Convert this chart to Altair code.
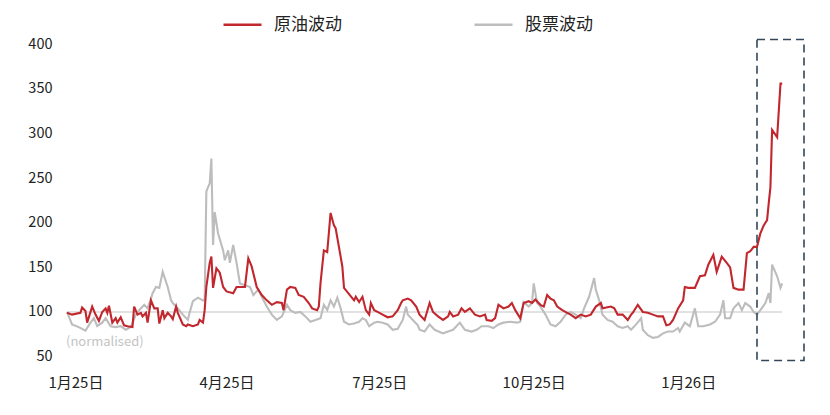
import altair as alt
import pandas as pd

FONT = "Noto Sans CJK SC"

# ---- data ----
series_names = ["原油波动", "股票波动"]
series_colors = ["#C1272D", "#BDBDBD"]

oil_dates = [
    "2024-12-27", "2024-12-30", "2025-01-04", "2025-01-05", "2025-01-07", "2025-01-08", "2025-01-11", "2025-01-13", "2025-01-15", "2025-01-17", "2025-01-19", "2025-01-20", "2025-01-21", "2025-01-23", "2025-01-25", "2025-01-26", "2025-01-28", "2025-01-30",
    "2025-02-01", "2025-02-04", "2025-02-05", "2025-02-07", "2025-02-09", "2025-02-10", "2025-02-12", "2025-02-13", "2025-02-15", "2025-02-17", "2025-02-19", "2025-02-20", "2025-02-22", "2025-02-23", "2025-02-25", "2025-02-27", "2025-02-28",
    "2025-03-02", "2025-03-03", "2025-03-06", "2025-03-08", "2025-03-09", "2025-03-12", "2025-03-15", "2025-03-16", "2025-03-18", "2025-03-19", "2025-03-20", "2025-03-22", "2025-03-23", "2025-03-24", "2025-03-26", "2025-03-28", "2025-03-30",
    "2025-04-01", "2025-04-05", "2025-04-07", "2025-04-09", "2025-04-12", "2025-04-14", "2025-04-16", "2025-04-19", "2025-04-22", "2025-04-25", "2025-04-28",
    "2025-05-01", "2025-05-04", "2025-05-05", "2025-05-07", "2025-05-09", "2025-05-12", "2025-05-14", "2025-05-17", "2025-05-20", "2025-05-22", "2025-05-25", "2025-05-26", "2025-05-27", "2025-05-29", "2025-05-31",
    "2025-06-02", "2025-06-04", "2025-06-05", "2025-06-08", "2025-06-09", "2025-06-10", "2025-06-13", "2025-06-16", "2025-06-17", "2025-06-19", "2025-06-21", "2025-06-23", "2025-06-25", "2025-06-26", "2025-06-28", "2025-06-30",
    "2025-07-03", "2025-07-06", "2025-07-09", "2025-07-12", "2025-07-14", "2025-07-15", "2025-07-18", "2025-07-20", "2025-07-23", "2025-07-25", "2025-07-28", "2025-07-31",
    "2025-08-02", "2025-08-05", "2025-08-08", "2025-08-11", "2025-08-12", "2025-08-14", "2025-08-17", "2025-08-19", "2025-08-21", "2025-08-24", "2025-08-27", "2025-08-30",
    "2025-09-02", "2025-09-03", "2025-09-06", "2025-09-08", "2025-09-10", "2025-09-13", "2025-09-16", "2025-09-18", "2025-09-20", "2025-09-23", "2025-09-25", "2025-09-28", "2025-09-30",
    "2025-10-02", "2025-10-05", "2025-10-07", "2025-10-09", "2025-10-11", "2025-10-13", "2025-10-15", "2025-10-18", "2025-10-21", "2025-10-23", "2025-10-26", "2025-10-29",
    "2025-11-01", "2025-11-04", "2025-11-07", "2025-11-10", "2025-11-11", "2025-11-16", "2025-11-18", "2025-11-20", "2025-11-23", "2025-11-26", "2025-11-28", "2025-11-29",
    "2025-12-02", "2025-12-05", "2025-12-08", "2025-12-11", "2025-12-14", "2025-12-17", "2025-12-19", "2025-12-21", "2025-12-23", "2025-12-26", "2025-12-29", "2025-12-30",
    "2026-01-01", "2026-01-05", "2026-01-08", "2026-01-11", "2026-01-13", "2026-01-16", "2026-01-18", "2026-01-21", "2026-01-24", "2026-01-26", "2026-01-28", "2026-01-31",
    "2026-02-03", "2026-02-05", "2026-02-07", "2026-02-09", "2026-02-11", "2026-02-13", "2026-02-15", "2026-02-17", "2026-02-18", "2026-02-19", "2026-02-20", "2026-02-23", "2026-02-25", "2026-02-26",
]
oil_values = [
    99, 97, 99, 105, 101, 88, 106, 97, 90, 100, 104, 99, 107, 88, 93, 88, 94, 85,
    84, 83, 106, 97, 99, 95, 99, 88, 113, 104, 104, 87, 102, 93, 99, 95, 92,
    106, 99, 86, 84, 86, 84, 86, 91, 88, 102, 128, 155, 162, 127, 149, 144, 128,
    123, 121, 128, 128, 128, 160, 151, 128, 119, 113, 108,
    111, 110, 102, 125, 128, 127, 119, 117, 110, 104, 102, 106, 132, 169, 167,
    211, 197, 194, 162, 151, 127, 120, 113, 117, 111, 117, 102, 97, 110, 102, 100,
    97, 94, 95, 102, 110, 113, 115, 113, 106, 97, 91, 110,
    100, 95, 91, 95, 100, 95, 97, 104, 100, 104, 97, 95,
    97, 91, 90, 93, 108, 104, 106, 110, 102, 93, 110, 112, 110,
    114, 108, 106, 119, 115, 113, 106, 102, 99, 97, 93, 97,
    95, 97, 106, 110, 104, 106, 104, 97, 97, 91, 97, 99,
    108, 100, 99, 97, 95, 95, 85, 86, 91, 104, 113, 128,
    127, 127, 140, 141, 153, 164, 145, 162, 155, 150, 127, 125,
    125, 166, 168, 173, 173, 188, 197, 203, 222, 240, 304, 296, 356, 356,
]

stock_dates = [
    "2024-12-27", "2024-12-30", "2025-01-03", "2025-01-07", "2025-01-10", "2025-01-12", "2025-01-14", "2025-01-17", "2025-01-19", "2025-01-22", "2025-01-25", "2025-01-28", "2025-01-31",
    "2025-02-03", "2025-02-06", "2025-02-08", "2025-02-11", "2025-02-13", "2025-02-15", "2025-02-16", "2025-02-18", "2025-02-20", "2025-02-22", "2025-02-25", "2025-02-27", "2025-02-28",
    "2025-03-03", "2025-03-06", "2025-03-09", "2025-03-10", "2025-03-12", "2025-03-15", "2025-03-18", "2025-03-19", "2025-03-20", "2025-03-21", "2025-03-22", "2025-03-23", "2025-03-24", "2025-03-25", "2025-03-27", "2025-03-30", "2025-03-31",
    "2025-04-02", "2025-04-03", "2025-04-05", "2025-04-07", "2025-04-09", "2025-04-12", "2025-04-15", "2025-04-17", "2025-04-20", "2025-04-22", "2025-04-25", "2025-04-28",
    "2025-05-01", "2025-05-04", "2025-05-07", "2025-05-09", "2025-05-12", "2025-05-15", "2025-05-18", "2025-05-21", "2025-05-24", "2025-05-27", "2025-05-29", "2025-05-31",
    "2025-06-02", "2025-06-04", "2025-06-06", "2025-06-08", "2025-06-10", "2025-06-13", "2025-06-16", "2025-06-19", "2025-06-21", "2025-06-23", "2025-06-25", "2025-06-28", "2025-06-30",
    "2025-07-03", "2025-07-06", "2025-07-09", "2025-07-12", "2025-07-15", "2025-07-17", "2025-07-18", "2025-07-21", "2025-07-24", "2025-07-25", "2025-07-28", "2025-07-31",
    "2025-08-03", "2025-08-08", "2025-08-11", "2025-08-14", "2025-08-18", "2025-08-21", "2025-08-25", "2025-08-28", "2025-08-31",
    "2025-09-04", "2025-09-07", "2025-09-10", "2025-09-13", "2025-09-17", "2025-09-21", "2025-09-23", "2025-09-25", "2025-09-28", "2025-09-30",
    "2025-10-01", "2025-10-03", "2025-10-05", "2025-10-08", "2025-10-11", "2025-10-14", "2025-10-17", "2025-10-20", "2025-10-23", "2025-10-26", "2025-10-29", "2025-10-31",
    "2025-11-03", "2025-11-06", "2025-11-07", "2025-11-09", "2025-11-11", "2025-11-14", "2025-11-17", "2025-11-20", "2025-11-23", "2025-11-26", "2025-11-28",
    "2025-12-01", "2025-12-04", "2025-12-05", "2025-12-08", "2025-12-11", "2025-12-14", "2025-12-17", "2025-12-20", "2025-12-23", "2025-12-26", "2025-12-27", "2025-12-30",
    "2026-01-02", "2026-01-05", "2026-01-07", "2026-01-10", "2026-01-14", "2026-01-17", "2026-01-20", "2026-01-22", "2026-01-23", "2026-01-26", "2026-01-28", "2026-01-31",
    "2026-02-02", "2026-02-04", "2026-02-07", "2026-02-09", "2026-02-11", "2026-02-13", "2026-02-16", "2026-02-18", "2026-02-19", "2026-02-20", "2026-02-23", "2026-02-25", "2026-02-26",
]
stock_values = [
    100, 86, 83, 79, 88, 93, 84, 88, 93, 84, 83, 84, 80,
    83, 97, 102, 108, 104, 115, 121, 128, 127, 145, 128, 113, 110,
    104, 97, 91, 99, 112, 116, 113, 113, 235, 240, 244, 272, 175, 212, 188, 169, 158,
    169, 155, 175, 155, 132, 130, 128, 119, 125, 117, 106, 97,
    91, 95, 108, 102, 99, 100, 95, 89, 91, 93, 108, 102,
    113, 106, 116, 104, 89, 86, 87, 89, 93, 91, 84, 88, 89,
    88, 86, 80, 81, 91, 106, 97, 91, 85, 80, 78, 86,
    80, 76, 78, 80, 88, 80, 78, 80, 84,
    84, 82, 86, 88, 89, 88, 89, 111, 106, 110,
    132, 110, 106, 97, 86, 84, 89, 97, 100, 97, 93, 104,
    117, 138, 125, 113, 97, 91, 89, 84, 82, 84, 80,
    86, 93, 80, 74, 71, 72, 76, 78, 78, 82, 78, 88,
    84, 104, 84, 84, 86, 89, 97, 113, 93, 93, 104, 110,
    102, 110, 106, 100, 97, 102, 110, 121, 110, 153, 140, 127, 132,
]

x_tick_dates = ["2025-01-01", "2025-04-01", "2025-07-01", "2025-10-01", "2026-01-01"]
y_ticks = [50, 100, 150, 200, 250, 300, 350, 400]
x_domain_dates = ["2024-12-27", "2026-03-11"]
y_domain = [45, 406]
base_level = 100
note_text = "(normalised)"
note_value = 66
box_dates = ["2026-02-11", "2026-03-11"]
box_values = [45.5, 405.5]


def ms(d):
    return int(pd.Timestamp(d).value // 10**6)


lines_df = pd.concat([
    pd.DataFrame({"date": stock_dates, "value": stock_values, "series": series_names[1]}),
    pd.DataFrame({"date": oil_dates, "value": oil_values, "series": series_names[0]}),
], ignore_index=True)

base_df = pd.DataFrame({"start": [oil_dates[0]], "end": [oil_dates[-1]], "value": [base_level]})
note_df = pd.DataFrame({"date": [oil_dates[0]], "value": [note_value], "text": [note_text]})
box_df = pd.DataFrame({"start": [box_dates[0]], "end": [box_dates[1]],
                       "low": [box_values[0]], "high": [box_values[1]]})

x_scale = alt.Scale(type="utc", domain=[ms(d) for d in x_domain_dates])
y_scale = alt.Scale(domain=y_domain, nice=False, zero=False)

x_axis = alt.Axis(
    values=[ms(d) for d in x_tick_dates],
    labelExpr="utcFormat(datum.value, '%-m月%y日')",
    title=None, labelFontSize=15, labelPadding=14, labelColor="#222222",
    labelFont=FONT, labelFlush=False,
)
y_axis = alt.Axis(
    values=y_ticks, title=None, labelFontSize=14.5, labelPadding=15,
    labelColor="#222222", labelFont=FONT,
)

color_enc = alt.Color(
    "series:N",
    scale=alt.Scale(domain=series_names, range=series_colors),
    legend=alt.Legend(
        title=None, orient="none", legendX=155, legendY=-35,
        direction="horizontal", columns=2, symbolType="stroke",
        symbolSize=1444, symbolStrokeWidth=2.5, labelFontSize=17,
        labelFont=FONT, labelColor="#222222", labelOffset=11,
        columnPadding=127, padding=0, labelLimit=200,
    ),
)

base_chart = alt.Chart(lines_df).mark_line(strokeWidth=2.1).encode(
    x=alt.X("date:T", scale=x_scale, axis=x_axis),
    y=alt.Y("value:Q", scale=y_scale, axis=y_axis),
    color=color_enc,
)

stock_line = base_chart.transform_filter(alt.datum.series == series_names[1])
oil_line = base_chart.transform_filter(alt.datum.series == series_names[0])

base_rule = alt.Chart(base_df).mark_rule(color="#D9D9D9", strokeWidth=1.5).encode(
    x=alt.X("start:T", scale=x_scale),
    x2="end:T",
    y=alt.Y("value:Q", scale=y_scale),
)

note = alt.Chart(note_df).mark_text(
    align="left", baseline="middle", fontSize=13, color="#C4C4C4", font=FONT, dx=-1,
).encode(
    x=alt.X("date:T", scale=x_scale),
    y=alt.Y("value:Q", scale=y_scale),
    text="text:N",
)

box = alt.Chart(box_df).mark_rect(
    filled=False, stroke="#34475A", strokeWidth=1.6, strokeDash=[8, 5],
).encode(
    x=alt.X("start:T", scale=x_scale),
    x2="end:T",
    y=alt.Y("low:Q", scale=y_scale),
    y2="high:Q",
)

chart = alt.layer(base_rule, stock_line, oil_line, note, box).properties(
    width=737, height=322,
    padding={"left": 59, "top": 31, "right": 18, "bottom": 44},
    autosize=alt.AutoSizeParams(type="none"),
    background="white",
).configure_view(stroke=None).configure_axis(
    grid=False, domain=False, ticks=False, tickSize=0,
)

chart.save("out.html", embed_options={"renderer": "svg", "actions": False})
